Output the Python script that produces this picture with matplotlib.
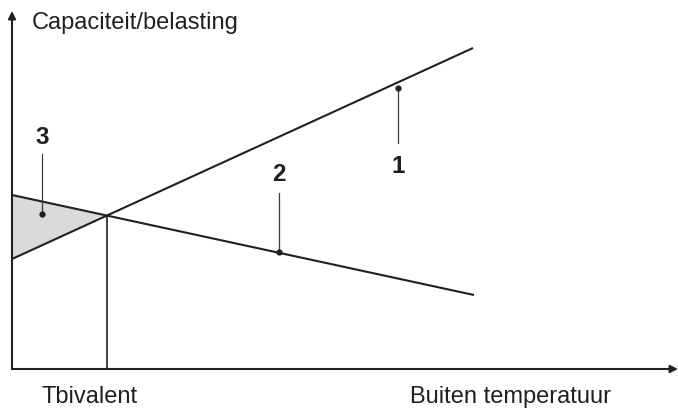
import matplotlib.pyplot as plt
import numpy as np

plt.rcParams['font.family'] = ['Liberation Sans', 'DejaVu Sans']

# lines (x = buiten temperatuur, y = capaciteit/belasting), arbitrary units
cap_x = np.array([0, 461])      # 1: capaciteit warmtepomp
cap_y = np.array([110, 321])
load_x = np.array([0, 462])     # 2: warmtebehoefte
load_y = np.array([174, 74])

# label positions and leader lines: (label x, label y, leader top, dot y)
labels = ['1', '2', '3']
label_x = [386, 267, 30]
label_y = [203, 195, 232]
leader_top = [226, 176, 215]
dot_y = [281, 117, 155]

x_label = "Buiten temperatuur"
y_label = "Capaciteit/belasting"
t_label = "Tbivalent"

fig = plt.figure(figsize=(6.78, 4.14), dpi=100)
ax = fig.add_axes([12 / 678, 44 / 414, 666 / 678, 358 / 414])
ax.set_xlim(0, 666)
ax.set_ylim(0, 358)
ax.axis('off')

# bivalent point
a1 = (cap_y[1] - cap_y[0]) / (cap_x[1] - cap_x[0])
a2 = (load_y[1] - load_y[0]) / (load_x[1] - load_x[0])
xb = (load_y[0] - cap_y[0]) / (a1 - a2)
yb = cap_y[0] + a1 * xb

# shaded area (bijverwarming)
ax.fill([0, xb, 0], [load_y[0], yb, cap_y[0]], color='#d9dadc', lw=0)

ax.plot(cap_x, cap_y, color='#231f20', lw=1.5, solid_capstyle='butt')
ax.plot(load_x, load_y, color='#231f20', lw=1.5, solid_capstyle='butt')
ax.plot([xb, xb], [0, yb], color='#231f20', lw=1.2)

# axes with arrows
ax.annotate('', xy=(666, 0), xytext=(0, 0), annotation_clip=False,
            arrowprops=dict(arrowstyle='-|>', color='#231f20', lw=1.5,
                            mutation_scale=11, shrinkA=0, shrinkB=0))
ax.annotate('', xy=(0, 358), xytext=(0, 0), annotation_clip=False,
            arrowprops=dict(arrowstyle='-|>', color='#231f20', lw=1.5,
                            mutation_scale=11, shrinkA=0, shrinkB=0))

# numbered labels
for lab, lx, ly, top, dy in zip(labels, label_x, label_y, leader_top, dot_y):
    ax.text(lx, ly, lab, ha='center', va='center', fontsize=17.5,
            fontweight='bold', color='#231f20')
    ax.plot([lx, lx], [top, dy], color='#3a3a3a', lw=0.9)
    ax.plot(lx, dy, 'o', color='#231f20', ms=3.5)

ax.text(20, 347, y_label, ha='left', va='center', fontsize=17,
        color='#231f20', clip_on=False)
ax.text(78, -27, t_label, ha='center', va='center', fontsize=17,
        color='#231f20', clip_on=False)
ax.text(498, -27, x_label, ha='center', va='center', fontsize=17,
        color='#231f20', clip_on=False)

fig.savefig('out.png', dpi=100)
